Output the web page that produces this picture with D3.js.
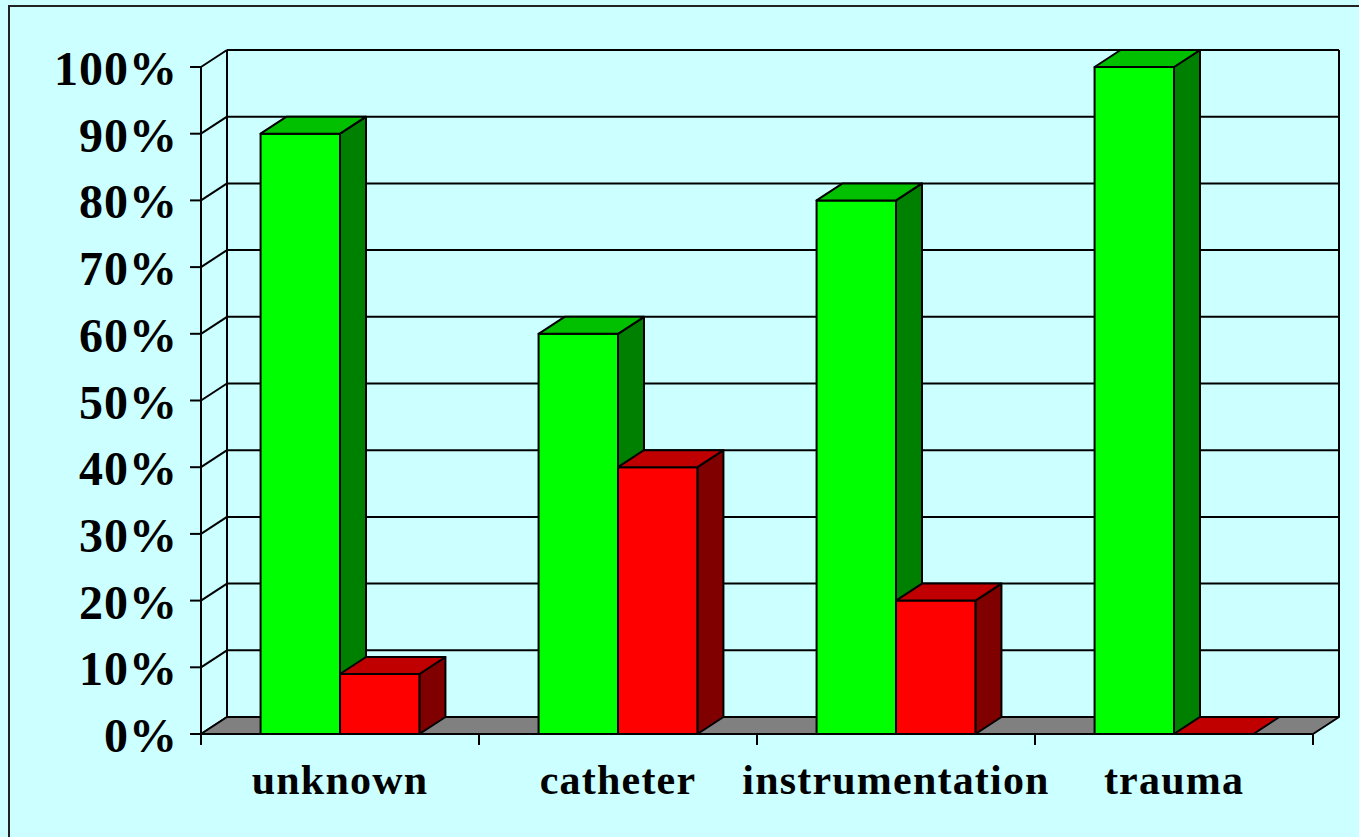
<!DOCTYPE html>
<html>
<head>
<meta charset="utf-8">
<script src="https://cdn.jsdelivr.net/npm/d3@7"></script>
<style>
  body { margin: 0; background: #ccffff; }
  text { font-family: "Times New Roman", "Liberation Serif", serif; font-weight: bold; fill: #000; }
</style>
</head>
<body>
<script>
var categories = ['unknown', 'catheter', 'instrumentation', 'trauma'];
var seriesNames = ['green', 'red'];
var greenValues = [0.90, 0.60, 0.80, 1.00];
var redValues = [0.09, 0.40, 0.20, 0.00];
var yTicks = [0, 0.1, 0.2, 0.3, 0.4, 0.5, 0.6, 0.7, 0.8, 0.9, 1.0];

var svgWidth = 1359;
var svgHeight = 837;
var depthX = 26, depthY = -17;

var colors = {
    green: { front: '#00ff00', top: '#00c000', side: '#008000' },
    red:   { front: '#ff0000', top: '#c00000', side: '#800000' }
};

var svg = d3.select('body')
    .append('svg')
    .attr('width', svgWidth)
    .attr('height', svgHeight);

svg.append('rect')
    .attr('x', 0).attr('y', 0)
    .attr('width', svgWidth).attr('height', svgHeight)
    .attr('fill', '#ccffff');

svg.append('rect')
    .attr('x', 9).attr('y', 6)
    .attr('width', svgWidth + 10).attr('height', svgHeight + 10)
    .attr('fill', 'none')
    .attr('stroke', '#222')
    .attr('stroke-width', 2);

var y = d3.scaleLinear().domain([0, 1]).range([734, 67]);
var x0 = d3.scaleBand().domain(categories).range([201, 1313]);
var x1 = d3.scaleBand().domain(seriesNames).range([0, x0.bandwidth()]).paddingOuter(0.75);

var left = x0.range()[0], right = x0.range()[1];
var g = svg.append('g');

// back wall gridlines + left wall diagonals
yTicks.forEach(function (t) {
    g.append('line')
        .attr('x1', left + depthX).attr('x2', right + depthX)
        .attr('y1', y(t) + depthY).attr('y2', y(t) + depthY)
        .attr('stroke', '#000').attr('stroke-width', 2);
    g.append('line')
        .attr('x1', left).attr('x2', left + depthX)
        .attr('y1', y(t)).attr('y2', y(t) + depthY)
        .attr('stroke', '#000').attr('stroke-width', 2);
    g.append('line')
        .attr('x1', left - 11).attr('x2', left)
        .attr('y1', y(t)).attr('y2', y(t))
        .attr('stroke', '#000').attr('stroke-width', 2);
});

// back wall verticals
[left + depthX, right + depthX].forEach(function (xx) {
    g.append('line')
        .attr('x1', xx).attr('x2', xx)
        .attr('y1', y(1) + depthY).attr('y2', y(0) + depthY)
        .attr('stroke', '#000').attr('stroke-width', 2);
});

// floor
g.append('polygon')
    .attr('points', [[left, y(0)], [right, y(0)], [right + depthX, y(0) + depthY], [left + depthX, y(0) + depthY]].join(' '))
    .attr('fill', '#808080')
    .attr('stroke', '#000')
    .attr('stroke-width', 2)
    .attr('stroke-linejoin', 'round');

// front value axis
g.append('line')
    .attr('x1', left).attr('x2', left)
    .attr('y1', y(1)).attr('y2', y(0) + 11)
    .attr('stroke', '#000').attr('stroke-width', 2);

// category axis + ticks
g.append('line')
    .attr('x1', left).attr('x2', right)
    .attr('y1', y(0)).attr('y2', y(0))
    .attr('stroke', '#000').attr('stroke-width', 2);
categories.concat([null]).forEach(function (c) {
    var xx = c === null ? right : x0(c);
    g.append('line')
        .attr('x1', xx).attr('x2', xx)
        .attr('y1', y(0)).attr('y2', y(0) + 11)
        .attr('stroke', '#000').attr('stroke-width', 2);
});

// bars
function drawBar(xl, w, v, col) {
    var top = y(v), bottom = y(0), xr = xl + w;
    var bar = g.append('g')
        .attr('stroke', '#000')
        .attr('stroke-width', 2)
        .attr('stroke-linejoin', 'round');
    if (v > 0) {
        bar.append('polygon')
            .attr('points', [[xr, bottom], [xr + depthX, bottom + depthY], [xr + depthX, top + depthY], [xr, top]].join(' '))
            .attr('fill', col.side);
        bar.append('rect')
            .attr('x', xl).attr('y', top)
            .attr('width', w).attr('height', bottom - top)
            .attr('fill', col.front);
    }
    bar.append('polygon')
        .attr('points', [[xl, top], [xr, top], [xr + depthX, top + depthY], [xl + depthX, top + depthY]].join(' '))
        .attr('fill', col.top);
}

categories.forEach(function (c, i) {
    drawBar(x0(c) + x1('green'), x1.bandwidth(), greenValues[i], colors.green);
    drawBar(x0(c) + x1('red'), x1.bandwidth(), redValues[i], colors.red);
});

// value labels
svg.append('g').selectAll('text')
    .data(yTicks)
    .enter()
    .append('text')
        .attr('x', 178)
        .attr('y', function (d) { return y(d) + 18; })
        .attr('text-anchor', 'end')
        .attr('font-size', 48)
        .attr('letter-spacing', 1)
        .text(function (d) { return Math.round(d * 100) + '%'; });

// category labels
svg.append('g').selectAll('text')
    .data(categories)
    .enter()
    .append('text')
        .attr('x', function (d) { return x0(d) + x0.bandwidth() / 2; })
        .attr('y', 794)
        .attr('text-anchor', 'middle')
        .attr('font-size', 42)
        .attr('letter-spacing', 1.2)
        .text(function (d) { return d; });
</script>
</body>
</html>
